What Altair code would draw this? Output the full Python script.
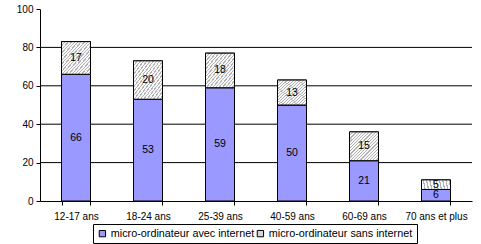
import altair as alt
import pandas as pd

categories = ["12-17 ans", "18-24 ans", "25-39 ans", "40-59 ans", "60-69 ans", "70 ans et plus"]
avec_internet = [66, 53, 59, 50, 21, 6]
sans_internet = [17, 20, 18, 13, 15, 5]
series_names = ["micro-ordinateur avec internet", "micro-ordinateur sans internet"]
grid_values = [20, 40, 60, 80]
y_ticks = [0, 20, 40, 60, 80, 100]

rows = []
for c, a, s in zip(categories, avec_internet, sans_internet):
    rows.append({"cat": c, "serie": series_names[0], "v": a, "start": 0, "end": a, "mid": a / 2, "o": 0})
    rows.append({"cat": c, "serie": series_names[1], "v": s, "start": a, "end": a + s, "mid": a + s / 2, "o": 1})
df = pd.DataFrame(rows)
df_sans = df[df["o"] == 1]
grid_df = pd.DataFrame({"g": grid_values})

# hatch-like striped gradient
stops = []
n = 18
for i in range(n):
    a0 = i / n
    a1 = (i + 0.38) / n
    a2 = (i + 1) / n
    stops += [
        {"offset": a0, "color": "#b2b2b2"},
        {"offset": a1, "color": "#b2b2b2"},
        {"offset": a1, "color": "#f8f8f8"},
        {"offset": a2, "color": "#f8f8f8"},
    ]
hatch = {"gradient": "linear", "x1": 0, "y1": 0, "x2": 1, "y2": 1, "stops": stops}

FONT = "Liberation Sans"
yscale = alt.Scale(domain=[0, 100], nice=False)
yaxis = alt.Axis(values=y_ticks, grid=False, title=None)

grid = alt.Chart(grid_df).mark_rule(color="black", strokeWidth=1).encode(
    y=alt.Y("g:Q", scale=yscale, axis=yaxis, title=None)
)

bars = alt.Chart(df).mark_bar(size=29, stroke="black", strokeWidth=1).encode(
    x=alt.X("cat:N", sort=categories, title=None,
            scale=alt.Scale(paddingInner=0.6, paddingOuter=0.3),
            axis=alt.Axis(labelAngle=0, tickBand="extent", labelPadding=6)),
    y=alt.Y("start:Q", scale=yscale, axis=yaxis, title=None),
    y2="end:Q",
    color=alt.Color("serie:N", sort=series_names,
                    scale=alt.Scale(domain=series_names, range=["#9999ff", "#d4d4d4"]),
                    legend=alt.Legend(title=None, orient="none", legendX=53, legendY=215, direction="horizontal",
                                      symbolType="square", symbolSize=40, symbolStrokeColor="black",
                                      symbolStrokeWidth=1, strokeColor="black", padding=4,
                                      labelFont=FONT, labelFontSize=10.8, labelColor="black",
                                      columnPadding=0, symbolOffset=0, labelOffset=3)),
)

hatched = alt.Chart(df_sans).mark_bar(size=29, stroke="black", strokeWidth=1, fill=hatch).encode(
    x=alt.X("cat:N", sort=categories),
    y=alt.Y("start:Q", scale=yscale, axis=yaxis, title=None),
    y2="end:Q",
)

labels = alt.Chart(df).mark_text(font=FONT, fontSize=10.5, color="black").encode(
    x=alt.X("cat:N", sort=categories),
    y=alt.Y("mid:Q", scale=yscale, axis=yaxis, title=None),
    text="v:Q",
)

chart = alt.layer(grid, bars, hatched, labels).properties(
    width=432, height=192,
    padding={"left": 40, "top": 9, "right": 9, "bottom": 43},
    autosize="none",
).configure_view(stroke=None).configure_axis(
    domainColor="black", tickColor="black", tickSize=4, labelColor="black",
    labelFont=FONT, labelFontSize=10, grid=False,
).configure_axisY(labelOverlap=False, labelFlush=False, labelPadding=3)

chart.save("out.html", embed_options={"renderer": "svg", "actions": False})
